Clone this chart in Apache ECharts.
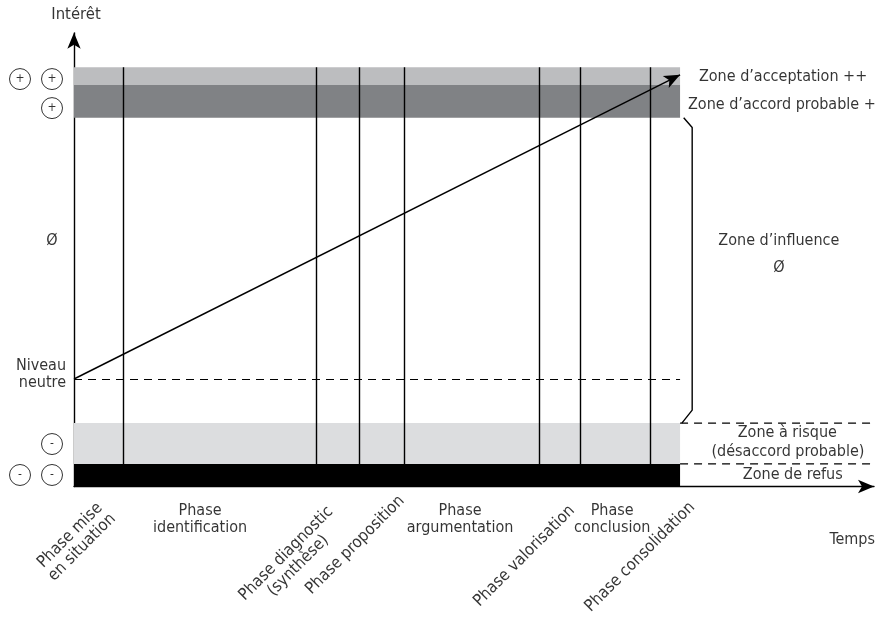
<!DOCTYPE html>
<html>
<head>
<meta charset="utf-8">
<script src="https://cdn.jsdelivr.net/npm/echarts@6/dist/echarts.min.js"></script>
<style>
html,body{margin:0;padding:0;background:#fff;}
#chart{width:884px;height:624px;}
</style>
</head>
<body>
<div id="chart"></div>
<script>
// ---------- DATA ----------
const xMax = 132;            // time axis extent (arrow end)
const yMin = -10;            // interest axis bottom
const yMax = 32.2;           // interest axis top (arrow end)
const bandEnd = 100;         // end of the zone bands in time

// phase boundaries (time)
const phaseBounds = [8.2, 39.9, 47.1, 54.5, 76.7, 83.5, 95.0];
const phaseTop = 29;         // top of vertical phase lines
const phaseBottom = -7.9;    // bottom of vertical phase lines

// zones (interest values)
const zoneNames = ['Zone de refus', 'Zone à risque', 'Zone d’accord probable', 'Zone d’acceptation'];
const zoneFrom  = [-10, -7.9, 24.3, 27.35];
const zoneTo    = [-7.9, -4.1, 27.35, 29];
const influenceFrom = -4.1;
const influenceTo = 24.3;
const neutralLevel = 0;

// trend line (start at neutral level, ends in acceptance zone)
const trendStart = [0, 0];
const trendEnd = [100, 28.3];

// texts
const axisNameY = 'Intérêt';
const axisNameX = 'Temps';
const phaseNames = ['Phase mise\nen situation', 'Phase\nidentification', 'Phase diagnostic\n(synthèse)',
  'Phase proposition', 'Phase\nargumentation', 'Phase valorisation', 'Phase\nconclusion', 'Phase consolidation'];
const phaseRotated = [true, false, true, true, false, true, false, true];
const zoneTexts = ['Zone d’acceptation ++', 'Zone d’accord probable +', 'Zone d’influence', 'Ø',
  'Zone à risque', '(désaccord probable)', 'Zone de refus'];
const leftTexts = ['Ø', 'Niveau\nneutre'];
const signTexts = ['+', '+', '+', '-', '-', '-'];

// ---------- STYLE / LAYOUT ----------
const zoneColors = ['#000000', '#dcdddf', '#808285', '#bcbdbf'];
const FONT = '"Liberation Sans Narrow", "DejaVu Sans Condensed", "Arial Narrow", sans-serif';
const phaseLabelPos = [[0.33, -15.1], [20.8, -13.07], [36.0, -16.8], [46.4, -15.44],
  [63.7, -13.07], [74.3, -16.47], [88.8, -13.07], [93.4, -16.56]];
const zoneTextPos = [[117.0, 28.1], [116.8, 25.5], [116.3, 12.84], [116.3, 10.33],
  [117.7, -5.02], [117.8, -6.79], [118.6, -8.93]];
const leftTextPos = [[-3.63, 12.84], [-1.32, 0.47]];
const signPos = [[-8.91, 27.9], [-3.63, 27.9], [-3.63, 25.2], [-3.63, -6.05], [-8.91, -8.93], [-3.63, -8.93]];
const yNamePos = [0.33, 33.9];
const xNamePos = [128.4, -14.98];

// ---------- BUILD ----------
const chart = echarts.init(document.getElementById('chart'), null, {renderer: 'canvas'});

const black = '#000';
const lineW = 1.4;

const bandAreas = zoneNames.map((n, i) => [
  {name: n, xAxis: 0, yAxis: zoneFrom[i], itemStyle: {color: zoneColors[i], opacity: 1}},
  {xAxis: bandEnd, yAxis: zoneTo[i]}
]);

const phaseLines = phaseBounds.map(x => [{coord: [x, phaseBottom]}, {coord: [x, phaseTop]}]);

const dashedLines = [
  [{coord: [0, neutralLevel]}, {coord: [bandEnd, neutralLevel]}]
];
const rightDashed = [
  [[bandEnd, influenceFrom], [xMax, influenceFrom]],
  [[bandEnd, zoneFrom[1]], [xMax, zoneFrom[1]]]
];

const braceX = bandEnd + 2;
const brace = [
  [bandEnd + 0.6, influenceTo],
  [braceX, influenceTo - 0.9],
  [braceX, influenceFrom + 1.2],
  [bandEnd + 0.3, influenceFrom]
];

function textLabel(value, text, opts) {
  return {
    value: value,
    label: Object.assign({
      show: true, formatter: text, position: 'inside', color: '#000',
      fontFamily: FONT, fontSize: 16, lineHeight: 17, align: 'center', verticalAlign: 'middle'
    }, opts || {})
  };
}

const texts = [];
phaseNames.forEach((t, i) => {
  texts.push(textLabel(phaseLabelPos[i], t, phaseRotated[i] ? {rotate: 45, fontSize: 16.5} : {}));
});
zoneTexts.forEach((t, i) => texts.push(textLabel(zoneTextPos[i], t, {fontSize: 16, lineHeight: 18})));
texts.push(textLabel(leftTextPos[0], leftTexts[0], {fontSize: 16}));
texts.push(textLabel(leftTextPos[1], leftTexts[1], {align: 'right', fontSize: 16, lineHeight: 17}));
texts.push(textLabel(yNamePos, axisNameY, {fontSize: 16.5}));
texts.push(textLabel(xNamePos, axisNameX, {fontSize: 16}));

const signs = signTexts.map((s, i) => ({
  value: signPos[i],
  label: {show: true, formatter: s, position: 'inside', color: '#000', fontFamily: FONT, fontSize: 12}
}));

const rightDashedSeries = rightDashed.map(seg => ({
  type: 'line', data: seg, silent: true, z: 3, symbol: 'none', clip: false,
  lineStyle: {color: black, width: 1.2, type: [8, 6]}
}));

chart.setOption({
  animation: false,
  backgroundColor: '#fff',
  grid: {left: 74, right: 10, top: 32.85, bottom: 137.5, containLabel: false},
  xAxis: {
    type: 'value', min: 0, max: xMax,
    axisLine: {show: true, onZero: false, symbol: ['none', 'arrow'], symbolSize: [10, 16],
      lineStyle: {color: black, width: lineW}},
    axisTick: {show: false}, axisLabel: {show: false}, splitLine: {show: false}
  },
  yAxis: {
    type: 'value', min: yMin, max: yMax,
    axisLine: {show: true, onZero: false, symbol: ['none', 'arrow'], symbolSize: [10, 16],
      lineStyle: {color: black, width: lineW}},
    axisTick: {show: false}, axisLabel: {show: false}, splitLine: {show: false}
  },
  series: [
    {
      type: 'line', data: [], silent: true, z: 1,
      markArea: {silent: true, data: bandAreas, label: {show: false}}
    },
    {
      type: 'line', data: [], silent: true, z: 3,
      markLine: {silent: true, symbol: ['none', 'none'], label: {show: false},
        lineStyle: {color: black, width: lineW, type: 'solid'}, data: phaseLines}
    },
    {
      type: 'line', data: [], silent: true, z: 3,
      markLine: {silent: true, symbol: ['none', 'none'], label: {show: false},
        lineStyle: {color: black, width: 1.2, type: [8, 6]}, data: dashedLines}
    },
    {
      type: 'line', data: [], silent: true, z: 4,
      markLine: {silent: true, symbol: ['none', 'arrow'], symbolSize: [10, 16], label: {show: false},
        lineStyle: {color: black, width: lineW, type: 'solid'},
        data: [[{coord: trendStart}, {coord: trendEnd}]]}
    },
    {
      type: 'line', data: brace, silent: true, z: 3, symbol: 'none', clip: false,
      lineStyle: {color: black, width: lineW}
    }
  ].concat(rightDashedSeries).concat([
    {
      type: 'scatter', data: signs, silent: true, z: 5, clip: false,
      symbol: 'circle', symbolSize: 21,
      itemStyle: {color: '#fff', borderColor: black, borderWidth: 1}
    },
    {
      type: 'scatter', data: texts, silent: true, z: 6, clip: false,
      symbol: 'circle', symbolSize: 1, itemStyle: {color: 'rgba(0,0,0,0)'}
    }
  ])
});
</script>
</body>
</html>
